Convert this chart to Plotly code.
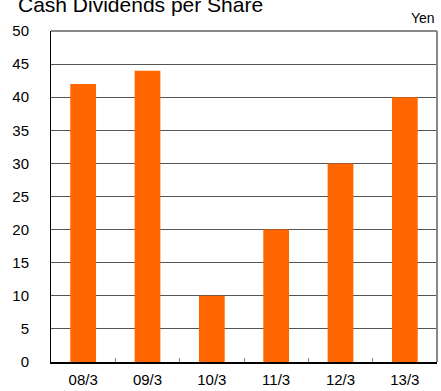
import plotly.graph_objects as go

# Fiscal-year periods and cash dividends per share (yen)
periods = ["08/3", "09/3", "10/3", "11/3", "12/3", "13/3"]
dividends = [42, 44, 10, 20, 30, 40]
y_ticks = [0, 5, 10, 15, 20, 25, 30, 35, 40, 45, 50]

FONT = "Liberation Sans, Arial, sans-serif"

fig = go.Figure(
    go.Bar(
        x=periods,
        y=dividends,
        marker=dict(color="#FF6600", line=dict(width=0)),
        width=0.4,
    )
)

fig.update_layout(
    width=441,
    height=391,
    margin=dict(l=51, r=4, t=31, b=29, autoexpand=False),
    paper_bgcolor="white",
    plot_bgcolor="white",
    showlegend=False,
    font=dict(family=FONT, color="#000000", size=15),
    xaxis=dict(
        automargin=False,
        showline=True,
        linecolor="#000000",
        linewidth=2,
        showgrid=False,
        ticks="inside",
        tickson="boundaries",
        ticklen=4,
        tickcolor="#888888",
        tickwidth=1,
        ticklabelstandoff=3,
        tickfont=dict(size=15),
    ),
    yaxis=dict(
        automargin=False,
        range=[0, 50],
        tickvals=y_ticks,
        showline=True,
        linecolor="#000000",
        linewidth=1,
        showgrid=True,
        gridcolor="#555555",
        gridwidth=1,
        zeroline=False,
        ticks="",
        ticklabelstandoff=18,
        tickfont=dict(size=15),
    ),
    shapes=[
        dict(type="line", xref="paper", yref="paper", x0=0, x1=1, y0=1, y1=1,
             line=dict(color="#888888", width=2)),
        dict(type="line", xref="paper", yref="paper", x0=1, x1=1, y0=0, y1=1,
             line=dict(color="#888888", width=2)),
    ],
    annotations=[
        dict(text="Cash Dividends per Share", xref="paper", yref="paper",
             x=-35 / 386, y=1, xanchor="left", yanchor="bottom",
             yshift=13, showarrow=False, font=dict(family=FONT, size=21)),
        dict(text="Yen", xref="paper", yref="paper", x=1, y=1,
             xanchor="right", yanchor="bottom", yshift=3, showarrow=False,
             font=dict(family=FONT, size=14)),
    ],
)

fig.write_html("out.html")
